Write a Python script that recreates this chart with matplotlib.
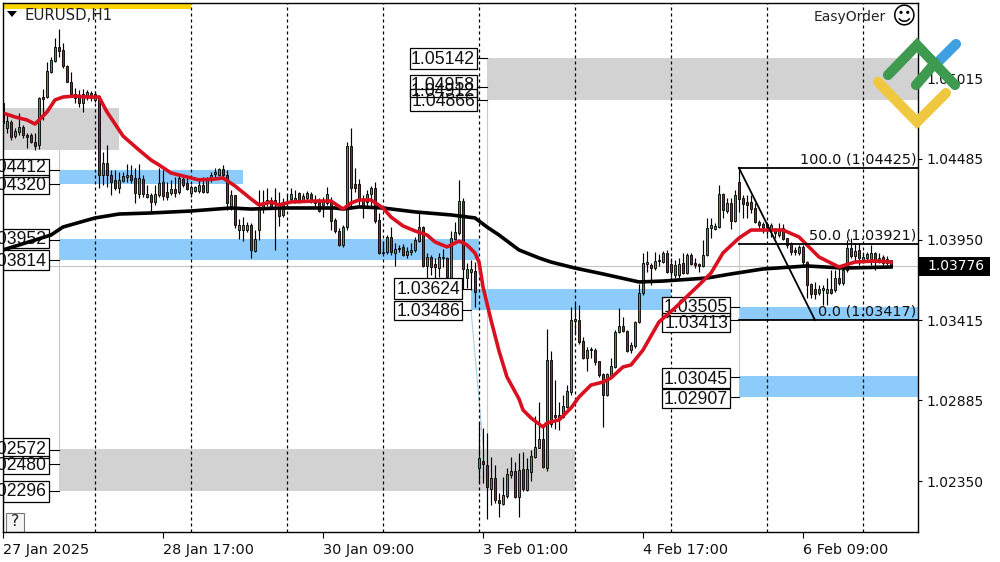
import matplotlib
matplotlib.use("Agg")
import numpy as np
import matplotlib.pyplot as plt
from matplotlib.patches import Rectangle, Polygon
from matplotlib.transforms import Affine2D

opens = [1.04856,1.04690,1.04730,1.04637,1.04663,1.04697,1.04644,1.04644,1.04597,1.04577,
1.04895,1.04895,1.05061,1.05134,1.05227,1.05207,1.05101,1.04995,1.04915,1.04895,
1.04856,1.04895,1.04922,1.04876,1.04902,1.04379,1.04458,1.04379,1.04346,1.04293,
1.04339,1.04365,1.04379,1.04359,1.04253,1.04352,1.04233,1.04246,1.04200,1.04246,
1.04332,1.04266,1.04259,1.04286,1.04266,1.04352,1.04326,1.04259,1.04273,1.04273,
1.04312,1.04266,1.04346,1.04385,1.04379,1.04418,1.04379,1.04173,1.04246,1.04014,
1.04014,1.04014,1.04048,1.03875,1.04014,1.04200,1.04193,1.04213,1.04213,1.04193,
1.04114,1.04193,1.04220,1.04213,1.04259,1.04213,1.04226,1.04253,1.04213,1.04200,
1.04180,1.04193,1.04213,1.04081,1.04008,1.03915,1.04034,1.04571,1.04319,1.04319,
1.04213,1.04200,1.04253,1.04293,1.04081,1.03862,1.03869,1.03968,1.03862,1.03888,
1.03902,1.03849,1.03869,1.03882,1.03941,1.04034,1.03776,1.03835,1.03789,1.03762,
1.03829,1.03829,1.03683,1.03955,1.03994,1.04206,1.03696,1.03736,1.03743,1.02437,
1.02484,1.02458,1.02298,1.02371,1.02226,1.02199,1.02252,1.02391,1.02418,1.02246,
1.02431,1.02292,1.02411,1.02510,1.02570,1.02630,1.02437,1.03153,1.02789,1.02789,
1.02775,1.02842,1.02941,1.03411,1.03418,1.03279,1.03166,1.03219,1.03219,1.03146,
1.03060,1.02921,1.03054,1.03107,1.03338,1.03378,1.03345,1.03219,1.03246,1.03405,
1.03597,1.03789,1.03782,1.03762,1.03809,1.03802,1.03862,1.03789,1.03716,1.03716,
1.03796,1.03729,1.03849,1.03796,1.03789,1.03776,1.03849,1.04028,1.04021,1.04034,
1.04253,1.04140,1.04193,1.04074,1.04332,1.04226,1.04200,1.04200,1.04160,1.04067,
1.04054,1.04054,1.04014,1.04014,1.03981,1.04028,1.03961,1.03928,1.03882,1.03862,
1.03902,1.03802,1.03656,1.03623,1.03597,1.03617,1.03597,1.03623,1.03617,1.03696,
1.03663,1.03749,1.03895,1.03842,1.03882,1.03816,1.03829,1.03822,1.03862,1.03802,
1.03835,1.03796,1.03816]
highs = [1.04876,1.04789,1.04743,1.04690,1.04789,1.04710,1.04657,1.04657,1.04657,1.04895,
1.04948,1.05127,1.05160,1.05286,1.05346,1.05253,1.05107,1.05061,1.04955,1.04942,
1.04948,1.04942,1.04935,1.04935,1.04909,1.04531,1.04577,1.04412,1.04412,1.04398,
1.04398,1.04451,1.04445,1.04425,1.04451,1.04379,1.04312,1.04259,1.04312,1.04425,
1.04412,1.04332,1.04346,1.04365,1.04379,1.04365,1.04359,1.04312,1.04306,1.04359,
1.04365,1.04365,1.04398,1.04425,1.04425,1.04445,1.04412,1.04279,1.04246,1.04088,
1.04101,1.04067,1.04061,1.04014,1.04279,1.04279,1.04293,1.04233,1.04293,1.04266,
1.04226,1.04253,1.04293,1.04279,1.04266,1.04259,1.04273,1.04266,1.04246,1.04226,
1.04233,1.04299,1.04233,1.04094,1.04028,1.04048,1.04597,1.04690,1.04425,1.04352,
1.04246,1.04279,1.04306,1.04332,1.04127,1.03935,1.03981,1.04034,1.03928,1.03915,
1.03922,1.03902,1.03928,1.03968,1.04127,1.04041,1.03862,1.03849,1.03829,1.03862,
1.03888,1.03835,1.04008,1.04067,1.04346,1.04226,1.03796,1.03816,1.03802,1.02742,
1.02703,1.02669,1.02510,1.02458,1.02272,1.02378,1.02437,1.02510,1.02477,1.02537,
1.02544,1.02504,1.02557,1.02782,1.02875,1.02709,1.03358,1.03213,1.03020,1.02875,
1.02921,1.02988,1.03504,1.03531,1.03517,1.03305,1.03239,1.03239,1.03232,1.03146,
1.03067,1.03067,1.03166,1.03352,1.03498,1.03438,1.03352,1.03272,1.03411,1.03656,
1.03862,1.03875,1.03796,1.03869,1.03855,1.03875,1.03882,1.03829,1.03816,1.03829,
1.03862,1.03862,1.03862,1.03829,1.03796,1.03948,1.04094,1.04094,1.04061,1.04312,
1.04259,1.04226,1.04226,1.04279,1.04432,1.04246,1.04246,1.04246,1.04193,1.04081,
1.04067,1.04067,1.04061,1.04028,1.04061,1.04054,1.03961,1.03935,1.03902,1.03915,
1.03915,1.03809,1.03663,1.03670,1.03650,1.03650,1.03696,1.03749,1.03749,1.03762,
1.03782,1.03948,1.03961,1.03928,1.03928,1.03869,1.03869,1.03915,1.03869,1.03862,
1.03849,1.03842,1.03816]
lows = [1.04657,1.04657,1.04610,1.04624,1.04644,1.04624,1.04558,1.04591,1.04544,1.04551,
1.04743,1.04889,1.05054,1.05127,1.05160,1.05088,1.04995,1.04909,1.04856,1.04829,
1.04796,1.04876,1.04869,1.04862,1.04293,1.04312,1.04299,1.04246,1.04279,1.04259,
1.04332,1.04332,1.04326,1.04193,1.04226,1.04233,1.04226,1.04134,1.04180,1.04233,
1.04213,1.04213,1.04246,1.04233,1.04253,1.04299,1.04279,1.04233,1.04266,1.04259,
1.04259,1.04259,1.04332,1.04365,1.04372,1.04365,1.04147,1.04147,1.04028,1.03955,
1.03941,1.04001,1.03829,1.03869,1.03948,1.04127,1.04173,1.04160,1.03882,1.04041,
1.04101,1.04173,1.04200,1.04193,1.04193,1.04200,1.04213,1.04193,1.04167,1.04134,
1.04101,1.04180,1.04014,1.03994,1.03908,1.03902,1.04014,1.04160,1.04266,1.04180,
1.04094,1.04167,1.04167,1.04061,1.03855,1.03855,1.03855,1.03849,1.03776,1.03869,
1.03842,1.03829,1.03849,1.03869,1.03935,1.03769,1.03683,1.03716,1.03683,1.03703,
1.03769,1.03683,1.03663,1.03948,1.03981,1.03623,1.03630,1.03617,1.03504,1.02338,
1.02338,1.02100,1.02193,1.02206,1.02113,1.02193,1.02239,1.02371,1.02239,1.02113,
1.02285,1.02285,1.02352,1.02504,1.02570,1.02437,1.02418,1.02709,1.02696,1.02689,
1.02769,1.02835,1.02921,1.03319,1.03259,1.03160,1.03080,1.03166,1.03120,1.03040,
1.02709,1.02915,1.03040,1.03100,1.03332,1.03338,1.03206,1.03200,1.03232,1.03398,
1.03584,1.03736,1.03650,1.03749,1.03776,1.03796,1.03729,1.03703,1.03696,1.03696,
1.03722,1.03722,1.03782,1.03762,1.03736,1.03769,1.03842,1.03961,1.04014,1.04028,
1.04094,1.04127,1.04021,1.04067,1.04134,1.04094,1.04094,1.04127,1.04061,1.04014,
1.03994,1.03981,1.03968,1.03961,1.03968,1.03948,1.03895,1.03849,1.03849,1.03849,
1.03782,1.03564,1.03564,1.03557,1.03584,1.03517,1.03517,1.03590,1.03604,1.03650,
1.03650,1.03736,1.03829,1.03802,1.03782,1.03796,1.03802,1.03782,1.03749,1.03796,
1.03782,1.03782,1.03769]
closes = [1.04723,1.04736,1.04630,1.04670,1.04697,1.04644,1.04630,1.04597,1.04571,1.04889,
1.04882,1.05068,1.05141,1.05227,1.05200,1.05101,1.04995,1.04915,1.04889,1.04856,
1.04915,1.04928,1.04889,1.04915,1.04379,1.04458,1.04379,1.04332,1.04293,1.04346,
1.04372,1.04379,1.04346,1.04259,1.04359,1.04253,1.04253,1.04200,1.04253,1.04326,
1.04240,1.04233,1.04286,1.04259,1.04359,1.04312,1.04286,1.04299,1.04299,1.04312,
1.04266,1.04352,1.04379,1.04398,1.04418,1.04379,1.04193,1.04246,1.04048,1.04048,
1.04048,1.04048,1.03882,1.03955,1.04160,1.04153,1.04213,1.04167,1.04200,1.04107,
1.04200,1.04200,1.04253,1.04226,1.04200,1.04240,1.04259,1.04200,1.04193,1.04140,
1.04213,1.04253,1.04074,1.04008,1.03915,1.04034,1.04571,1.04293,1.04293,1.04213,
1.04173,1.04253,1.04293,1.04074,1.03862,1.03869,1.03968,1.03869,1.03888,1.03895,
1.03849,1.03875,1.03882,1.03948,1.04034,1.03776,1.03835,1.03769,1.03769,1.03835,
1.03835,1.03703,1.03961,1.04001,1.04206,1.03756,1.03756,1.03756,1.03604,1.02504,
1.02464,1.02312,1.02371,1.02226,1.02206,1.02259,1.02398,1.02418,1.02246,1.02424,
1.02298,1.02431,1.02517,1.02577,1.02630,1.02444,1.03153,1.02729,1.02775,1.02775,
1.02848,1.02948,1.03418,1.03425,1.03272,1.03166,1.03219,1.03226,1.03140,1.03054,
1.02921,1.03060,1.03113,1.03338,1.03378,1.03345,1.03213,1.03252,1.03405,1.03597,
1.03796,1.03802,1.03762,1.03809,1.03816,1.03862,1.03736,1.03736,1.03782,1.03789,
1.03729,1.03849,1.03789,1.03782,1.03776,1.03849,1.04028,1.04048,1.04041,1.04253,
1.04147,1.04193,1.04074,1.04246,1.04220,1.04187,1.04180,1.04153,1.04067,1.04048,
1.04028,1.04034,1.04048,1.03994,1.04014,1.03955,1.03915,1.03869,1.03869,1.03902,
1.03802,1.03650,1.03590,1.03590,1.03623,1.03630,1.03623,1.03597,1.03696,1.03663,
1.03749,1.03895,1.03842,1.03875,1.03829,1.03835,1.03855,1.03862,1.03802,1.03829,
1.03796,1.03822,1.03769]

red_ma_bars = [0,3,6,8,11,13,15,18,21,24,26,28,30,34,37,39,42,45,49,53,55,58,62,64,67,69,72,78,82,85,87,89,92,
    95,97,100,103,106,108,111,114,116,118,119,120,122,124,126,129,130,132,135,136,139,142,144,147,150,152,155,157,
    160,164,168,174,177,180,184,187,195,199,204,209,213,218,222]
red_ma = [1.04789,1.04763,1.04743,1.04716,1.04796,1.04876,1.04895,1.04902,1.04895,1.04895,1.04796,1.04717,1.04637,
    1.04544,1.04478,1.04445,1.04392,1.04372,1.04346,1.04352,1.04359,1.04306,1.04220,1.04180,1.04200,1.04180,1.04200,
    1.04206,1.04206,1.04153,1.04193,1.04213,1.04213,1.04160,1.04100,1.04041,1.04008,1.03981,1.03935,1.03902,1.03941,
    1.03915,1.03862,1.03802,1.03637,1.03418,1.03213,1.03040,1.02895,1.02822,1.02769,1.02709,1.02736,1.02756,1.02835,
    1.02908,1.02987,1.03007,1.03034,1.03107,1.03120,1.03219,1.03405,1.03498,1.03650,1.03729,1.03862,1.03961,1.04014,
    1.04014,1.03968,1.03835,1.03769,1.03802,1.03809,1.03802]
black_ma_bars = [0,12,15,23,29,37,47,57,62,70,83,85,89,95,103,112,118,121,124,129,134,137,143,150,159,165,176,182,190,201,210,222]
black_ma = [1.03882,1.03981,1.04034,1.04094,1.04120,1.04127,1.04140,1.04160,1.04153,1.04160,1.04160,1.04153,1.04167,
    1.04160,1.04134,1.04114,1.04094,1.04034,1.03981,1.03882,1.03829,1.03802,1.03762,1.03723,1.03670,1.03676,1.03696,
    1.03723,1.03756,1.03776,1.03762,1.03769]

day_lines = [23, 47, 71, 95, 119, 143, 167, 191, 215]
gray_zones = [(0, 29, 1.04822, 1.04544), (14, 143, 1.02563, 1.02285), (121, 229, 1.05154, 1.04876)]
blue_zones = [(14, 60, 1.04412, 1.04320), (14, 119, 1.03952, 1.03814), (117, 167, 1.03624, 1.03486),
    (184, 229, 1.03505, 1.03417), (184, 229, 1.03045, 1.02907)]
fib_levels = [1.04425, 1.03921, 1.03417]
fib_labels = ["100.0 (1.04425)", "50.0 (1.03921)", "0.0 (1.03417)"]
price_ticks = [1.05015, 1.04485, 1.03950, 1.03415, 1.02885, 1.02350]
time_ticks = [0, 40, 80, 120, 160, 200]
time_labels = ["27 Jan 2025", "28 Jan 17:00", "30 Jan 09:00", "3 Feb 01:00", "4 Feb 17:00", "6 Feb 09:00"]
last_price = 1.03776

fig = plt.figure(figsize=(10, 5.62), dpi=100, facecolor="white")
ax = fig.add_axes([3/1000, 30/562, 915/1000, 529/562])
ax.set_xlim(0, 228.75)
ax.set_ylim(1.020135, 1.05518)

# everything that is not on the price scale goes in image pixels
px = Affine2D().scale(1, -1).translate(0, 562)

for a, b, top, bot in gray_zones:
    ax.add_patch(Rectangle((a, bot), b - a, top - bot, color="#d2d2d2", lw=0, zorder=1))
for a, b, top, bot in blue_zones:
    ax.add_patch(Rectangle((a, bot), b - a, top - bot, color="#8ccbfa", lw=0, zorder=1))

ax.axhline(last_price, color="#c4c4c4", lw=0.8, zorder=1.5)
ax.plot([14, 14], [1.04544, 1.02572], color="#c8c8c8", lw=0.8, zorder=1.5)
ax.plot([121, 121], [1.04866, 1.02572], color="#c8c8c8", lw=0.8, zorder=1.5)
ax.plot([184, 184], [1.04425, 1.03045], color="#a9d0e4", lw=0.8, zorder=1.5)
ax.plot([117, 121], [1.03486, 1.02296], color="#a9d0e4", lw=0.8, zorder=1.5)
for d in day_lines:
    ax.axvline(d, color="black", lw=0.9, ls=(0, (2.4, 2.4)), zorder=2)

bars = np.arange(len(opens))
o = np.array(opens)
c = np.array(closes)
up = c >= o
ax.vlines(bars, lows, highs, color="black", lw=0.85, zorder=3)
ax.bar(bars[up], (c - o)[up], bottom=o[up], width=0.72, color="#4f8f5b", edgecolor="black", lw=0.6, zorder=4)
ax.bar(bars[~up], (o - c)[~up], bottom=c[~up], width=0.72, color="#a31c2c", edgecolor="black", lw=0.6, zorder=4)

# level boxes: text, box left, box right, top, bottom, text y, level y, connector end
boxes = [
    ("1.04412", 3, 49, 159, 177, 168, 170, 59), ("1.04320", 3, 49, 175, 194, 185, 184, 59),
    ("1.03952", 3, 49, 229, 248, 239, 240, 59), ("1.03814", 3, 49, 250, 270, 261, 260, 59),
    ("1.02572", 3, 49, 438, 458, 450, 450, 59), ("1.02480", 3, 49, 456, 474, 465, 464, 59),
    ("1.02296", 3, 49, 481, 502, 492, 491, 59),
    ("1.05142", 410, 477, 48, 69, 59, 58, 487), ("1.04958", 410, 477, 75, 97, 85, 87, 487),
    ("1.04912", 410, 477, 82, 103, 92, 92, 477), ("1.04866", 410, 477, 89, 111, 102, 100, 487),
    ("1.03624", 394, 462, 278, 299, 290, 289, 471), ("1.03486", 394, 462, 301, 320, 311, 310, 471),
    ("1.03505", 662, 730, 297, 316, 307, 307, 739), ("1.03413", 662, 730, 313, 332, 323, 320, 739),
    ("1.03045", 662, 730, 368, 388, 379, 377, 739), ("1.02907", 662, 730, 389, 408, 399, 397, 739),
]
# fills first, so that overlapping boxes still show each other's text and edges
for txt, x0, x1, y0, y1, ty, lev, end in boxes:
    ax.add_patch(Rectangle((x0, y0), x1 - x0, y1 - y0, transform=px, fc="white", lw=0, zorder=8))
for txt, x0, x1, y0, y1, ty, lev, end in boxes:
    if txt != "1.04912":
        ax.plot([x1, end], [lev, lev], transform=px, color="black", lw=0.8, zorder=8.1)
        ax.add_patch(Rectangle((x0, y0), x1 - x0, y1 - y0, transform=px, fill=False, ec="black", lw=0.9, zorder=8.1))
    ax.text(x1 - 2, ty, txt, transform=px, ha="right", va="center", fontsize=12.7,
            family="Liberation Sans", color="#111111", zorder=8.2)

ax.plot(black_ma_bars, black_ma, color="black", lw=2.6, zorder=9, solid_joinstyle="round")
ax.plot(red_ma_bars, red_ma, color="#d8101f", lw=2.6, zorder=9.1, solid_joinstyle="round")

# fibo lines and labels
for lev, lab in zip(fib_levels, fib_labels):
    ax.plot([184, 228.75], [lev, lev], color="black", lw=1.3, zorder=9.2)
    ax.text(228.4, lev + 0.00008, lab, ha="right", va="bottom", fontsize=10.4, zorder=9.2, color="#111111")
ax.plot([184, 203], [fib_levels[0], fib_levels[2]], color="black", lw=1.3, zorder=9.2)

# header bits
ax.add_patch(Rectangle((3, 3), 188, 6, transform=px, fc="#ffd400", lw=0, zorder=9.5))
ax.add_patch(Polygon([(7, 11), (17, 11), (12, 17)], closed=True, transform=px, fc="black", lw=0, zorder=9.5))
ax.text(25, 15.5, "EURUSD,H1", transform=px, ha="left", va="center", fontsize=10.8, color="#222222", zorder=9.5)
ax.text(886, 16.5, "EasyOrder", transform=px, ha="right", va="center", fontsize=10, color="#222222", zorder=9.5)
ax.text(903, 17, "\u263a", transform=px, ha="center", va="center", fontsize=17, color="black", zorder=9.5)
ax.add_patch(Rectangle((6, 513), 18, 19, transform=px, fc="#f4f4f4", ec="#777777", lw=0.8, zorder=9.5))
ax.text(15, 522, "?", transform=px, ha="center", va="center", fontsize=11.5, color="#222222", zorder=9.5)

# axes
for side in ["top", "right", "left", "bottom"]:
    ax.spines[side].set_linewidth(1.0)
    ax.spines[side].set_zorder(10)
ax.yaxis.tick_right()
ax.set_yticks(price_ticks)
ax.set_yticklabels([f"{p:.5f}" for p in price_ticks], fontsize=10, color="#111111")
ax.set_xticks(time_ticks)
ax.set_xticklabels(time_labels, fontsize=10.4, ha="left", color="#111111")
ax.tick_params(axis="y", length=3, width=0.8, pad=3)
ax.tick_params(axis="x", length=4, width=0.8, pad=4)

# current price tag
ax.add_patch(Rectangle((919, 257), 71, 19, transform=px, fc="black", lw=0, clip_on=False, zorder=10))
ax.text(927, 266.5, f"{last_price:.5f}", transform=px, ha="left", va="center", fontsize=10, color="white",
        clip_on=False, zorder=11)

# logo over the corner of the chart
logo = [
    ("#3ea0e0", [(938, 62), (956, 44)]),
    ("#f0c840", [(878, 82), (917, 122), (946, 93)]),
    ("#3d9a4e", [(916, 85), (935, 63)]),
    ("#3d9a4e", [(888, 75), (917, 45), (955, 85)]),
]
for col, pts in logo:
    xs, ys = zip(*pts)
    ax.plot(xs, ys, transform=px, color=col, lw=7.3, solid_capstyle="round", solid_joinstyle="miter",
            clip_on=False, zorder=12)

fig.savefig("out.png", dpi=100)
